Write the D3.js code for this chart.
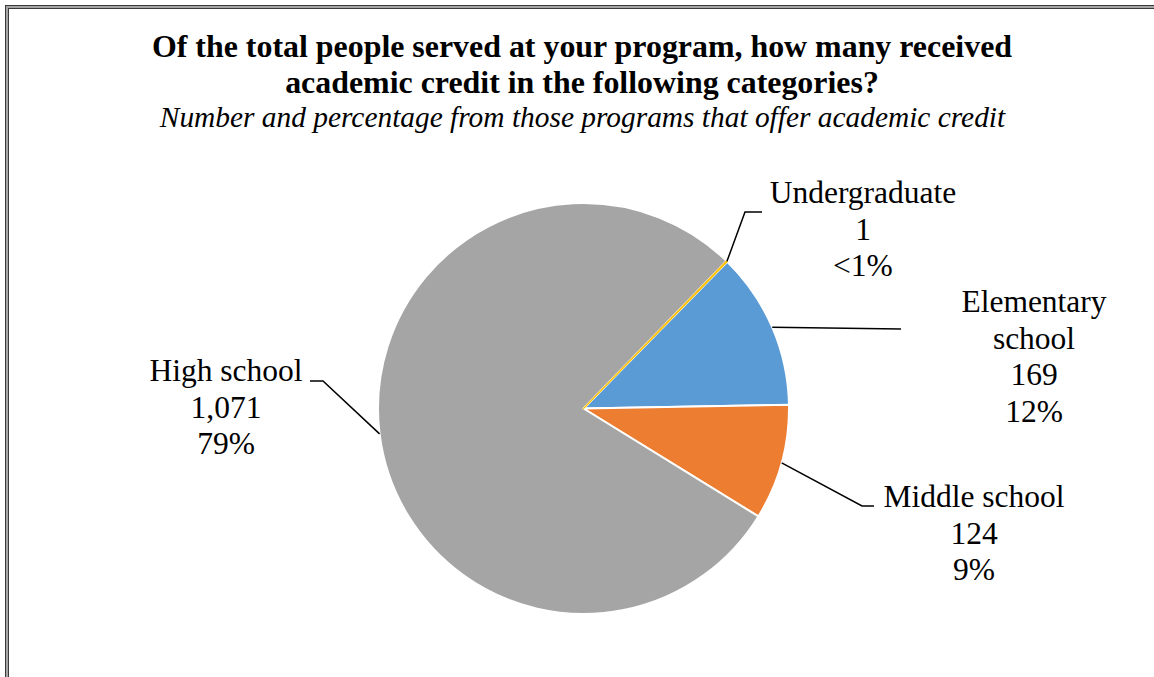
<!DOCTYPE html>
<html>
<head>
<meta charset="utf-8">
<script src="https://cdn.jsdelivr.net/npm/d3@7"></script>
<style>
    body { margin: 0; background: #fff; }
    svg { display: block; }
    .lbl { font-family: "Liberation Serif", "Times New Roman", serif; font-size: 31.5px; fill: #000; }
</style>
</head>
<body>
<div id="chart"></div>
<script>
// chart data
var categories = ["Elementary school", "Middle school", "High school", "Undergraduate"];
var counts = [169, 124, 1071, 1];
var countLabels = ["169", "124", "1,071", "1"];
var pctLabels = ["12%", "9%", "79%", "<1%"];
var colors = ["#5B9BD5", "#ED7D31", "#A5A5A5", "#FFC000"];

var width = 1154, height = 677;
var cx = 583.5, cy = 408.5, r = 205.5;
var startDeg = 44.4;

// label anchor (text centre x, first baseline) and leader bend points
var labelLayout = [
    { x: 1034, y: 312, path: [[901, 329]] },
    { x: 974, y: 507, path: [[862, 506], [874, 506]] },
    { x: 226, y: 381, path: [[323, 381], [310, 381]] },
    { x: 863, y: 203, path: [[745, 212], [762, 212]] }
];

var svg = d3.select("#chart").append("svg")
    .attr("width", width)
    .attr("height", height);

// double frame
svg.append("rect").attr("x", 5.5).attr("y", 5.5).attr("width", width + 20).attr("height", height + 20)
    .attr("fill", "none").attr("stroke", "#3a3a3a").attr("stroke-width", 1);
svg.append("rect").attr("x", 7).attr("y", 7).attr("width", width + 20).attr("height", height + 20)
    .attr("fill", "none").attr("stroke", "#a6a6a6").attr("stroke-width", 2);
svg.append("rect").attr("x", 8.5).attr("y", 8.5).attr("width", width + 20).attr("height", height + 20)
    .attr("fill", "none").attr("stroke", "#3a3a3a").attr("stroke-width", 1);

// titles
var title = svg.append("text")
    .attr("text-anchor", "middle")
    .style("font-family", "'Liberation Serif', 'Times New Roman', serif")
    .style("font-weight", "bold")
    .style("font-size", "31.9px");
title.append("tspan").attr("x", 582).attr("y", 57)
    .text("Of the total people served at your program, how many received");
title.append("tspan").attr("x", 582).attr("y", 93)
    .text("academic credit in the following categories?");

svg.append("text")
    .attr("x", 582.5).attr("y", 127)
    .attr("text-anchor", "middle")
    .style("font-family", "'Liberation Serif', 'Times New Roman', serif")
    .style("font-style", "italic")
    .style("font-size", "29.4px")
    .text("Number and percentage from those programs that offer academic credit");

var pie = d3.pie()
    .sort(null)
    .value(function (d) { return d; })
    .startAngle(startDeg * Math.PI / 180)
    .endAngle(startDeg * Math.PI / 180 + 2 * Math.PI);

var arc = d3.arc().innerRadius(0).outerRadius(r);
var edge = d3.arc().innerRadius(r).outerRadius(r);

var arcs = pie(counts);

var g = svg.append("g").attr("transform", "translate(" + cx + "," + cy + ")");

g.selectAll("path.slice")
    .data(arcs)
    .enter().append("path")
    .attr("class", "slice")
    .attr("d", arc)
    .attr("fill", function (d, i) { return colors[i]; })
    .attr("stroke", function (d, i) { return d.value < 5 ? colors[i] : "#fff"; })
    .attr("stroke-width", function (d) { return d.value < 5 ? 1.2 : 2; })
    .attr("stroke-linejoin", "round");

// leader lines
var line = d3.line();
svg.selectAll("path.leader")
    .data(arcs)
    .enter().append("path")
    .attr("class", "leader")
    .attr("fill", "none")
    .attr("stroke", "#000")
    .attr("stroke-width", 1.5)
    .attr("d", function (d, i) {
        var c = edge.centroid(d);
        var pts = [[cx + c[0], cy + c[1]]].concat(labelLayout[i].path);
        return line(pts);
    });

// labels
var lh = 36.5;
svg.selectAll("text.lbl")
    .data(arcs)
    .enter().append("text")
    .attr("class", "lbl")
    .attr("text-anchor", "middle")
    .each(function (d, i) {
        var t = d3.select(this);
        var pos = labelLayout[i];
        var lines = categories[i] === "Elementary school" ? ["Elementary", "school"] : [categories[i]];
        lines = lines.concat([countLabels[i], pctLabels[i]]);
        lines.forEach(function (s, k) {
            t.append("tspan").attr("x", pos.x).attr("y", pos.y + k * lh).text(s);
        });
    });
</script>
</body>
</html>
